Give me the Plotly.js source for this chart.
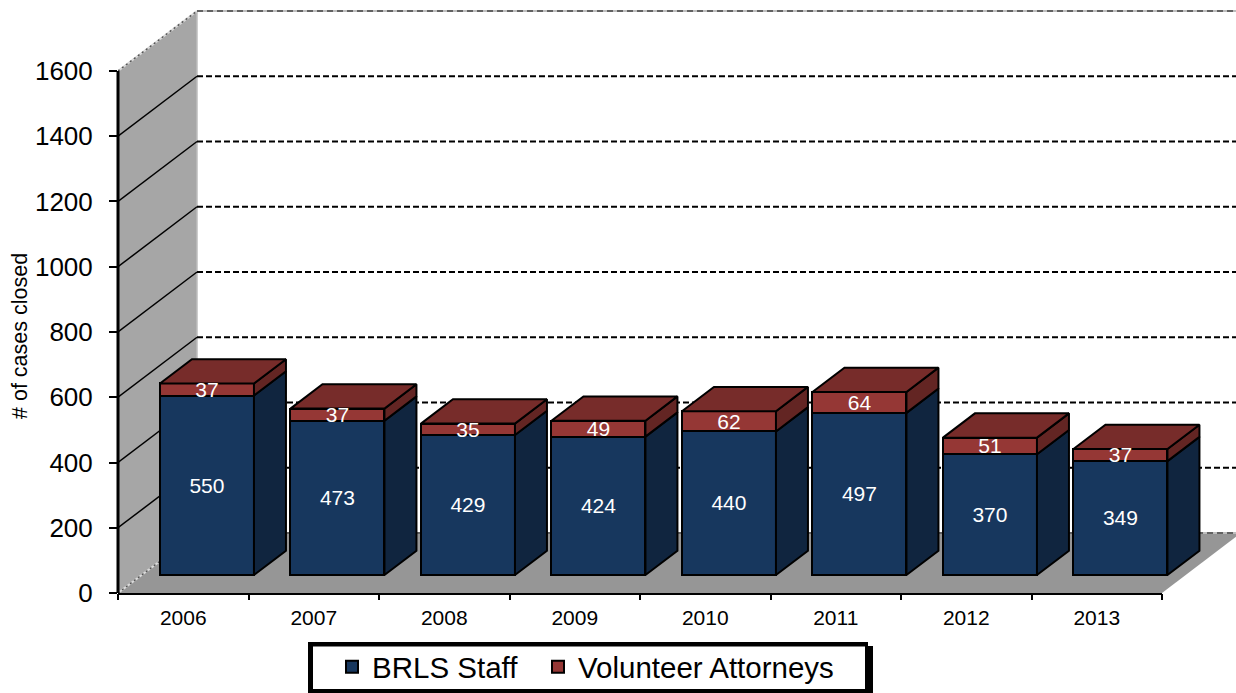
<!DOCTYPE html>
<html>
<head>
<meta charset="utf-8">
<script src="https://cdn.plot.ly/plotly-3.0.1.min.js"></script>
<style>html,body{margin:0;padding:0;background:#fff}#chart{width:1236px;height:693px}</style>
</head>
<body>
<div id="chart"></div>
<script>
// ---- data ----
var years = ['2006','2007','2008','2009','2010','2011','2012','2013'];
var staff = [550,473,429,424,440,497,370,349];
var volunteers = [37,37,35,49,62,64,51,37];
var yTicks = [0,200,400,600,800,1000,1200,1400,1600];

// ---- 3D projection, expressed in axis units ----
var W = 1236, H = 693, L = 118, T = 9, B0 = 593;
var catPx = 130.5, valPx = 584 / 1790;
var DX = 79 / catPx, DY = 60 / valPx;      // full depth of the chart box
var barStart = 0.30, barDepth = 0.405, barW = 94 / catPx;
var xMax = (W - L) / catPx, yMax = 1790, nCat = years.length;
var px = function (p) { return (p - L) / (W - L); };
var py = function (p) { return (B0 - p) / (B0 - T); };
var labelNudge = 2 / valPx;

var floorBase = barStart * DY;
var centers = years.map(function (_, i) { return i + 0.5 + barStart * DX; });
var tops = staff.map(function (v, i) { return v + volunteers[i]; });

function polys(build) {
  var xs = [], ys = [];
  years.forEach(function (_, i) {
    build(i).forEach(function (p) { xs.push(p[0]); ys.push(p[1]); });
    xs.push(null); ys.push(null);
  });
  return {x: xs, y: ys};
}
var dX = barDepth * DX, dY = barDepth * DY;
function sideFace(low, high) {
  return polys(function (i) {
    var r = centers[i] + barW / 2, a = floorBase + low[i], b = floorBase + high[i];
    return [[r, a], [r + dX, a + dY], [r + dX, b + dY], [r, b], [r, a]];
  });
}
var zeros = years.map(function () { return 0; });
var sideBlue = sideFace(zeros, staff);
var sideRed = sideFace(staff, tops);
var topRed = polys(function (i) {
  var l = centers[i] - barW / 2, r = centers[i] + barW / 2, t = floorBase + tops[i];
  return [[l, t], [r, t], [r + dX, t + dY], [l + dX, t + dY], [l, t]];
});
function face(p, color) {
  return {type: 'scatter', mode: 'lines', x: p.x, y: p.y, fill: 'toself', fillcolor: color,
    line: {color: '#000', width: 2}, showlegend: false, hoverinfo: 'skip'};
}
var labelFont = {color: '#fff', size: 21, family: 'Liberation Sans'};
var traces = [
  {type: 'bar', name: 'BRLS Staff', x: centers, y: staff, width: barW,
   base: years.map(function () { return floorBase; }),
   marker: {color: '#17375E', line: {color: '#000', width: 2}}, hoverinfo: 'y'},
  {type: 'bar', name: 'Volunteer Attorneys', legend: 'legend2', x: centers, y: volunteers, width: barW,
   base: staff.map(function (v) { return floorBase + v; }),
   marker: {color: '#953735', line: {color: '#000', width: 2}}, hoverinfo: 'y'},
  face(sideBlue, '#10253F'),
  face(sideRed, '#632523'),
  face(topRed, '#772C2A'),
  {type: 'scatter', mode: 'text', x: centers, y: staff.map(function (v) { return floorBase + v / 2 - labelNudge; }),
   text: staff.map(String), textfont: labelFont,
   textposition: 'middle center', showlegend: false, hoverinfo: 'skip'},
  {type: 'scatter', mode: 'text', x: centers,
   y: staff.map(function (v, i) { return floorBase + v + volunteers[i] / 2 - labelNudge; }),
   text: volunteers.map(String), textfont: labelFont,
   textposition: 'middle center', showlegend: false, hoverinfo: 'skip'}
];

// ---- walls, floor, gridlines ----
var shapes = [];
function poly(pts, fill, lineColor, lw) {
  var d = pts.map(function (p, i) { return (i ? 'L' : 'M') + p[0] + ',' + p[1]; }).join('') + 'Z';
  shapes.push({type: 'path', xref: 'x', yref: 'y', layer: 'below', path: d, fillcolor: fill,
    line: {color: lineColor || fill, width: lw || 0}});
}
function seg(x0, y0, x1, y1, color, width, dash, layer) {
  shapes.push({type: 'line', xref: 'x', yref: 'y', layer: layer || 'below',
    x0: x0, y0: y0, x1: x1, y1: y1, line: {color: color, width: width, dash: dash || 'solid'}});
}
poly([[0, 0], [DX, DY], [DX, 1600 + DY], [0, 1600]], '#A6A6A6');
poly([[0, 0], [nCat, 0], [nCat + DX, DY], [DX, DY]], '#969696');
seg(DX, DY, DX, 1600 + DY, '#BDBDBD', 1.5);
yTicks.forEach(function (v) {
  var edge = (v === 0 || v === 1600);
  if (edge) {
    seg(0, v, DX, v + DY, '#D9D9D9', 2);
    seg(0, v, DX, v + DY, '#555', 1.5, '2px,3px');
    seg(DX, v + DY, nCat + DX, v + DY, '#BDBDBD', 2);
    seg(DX, v + DY, nCat + DX, v + DY, '#444', 1.5, '6px,4px');
  } else {
    seg(0, v, DX, v + DY, '#000', 1.5);
    seg(DX, v + DY, nCat + DX, v + DY, '#000', 2, '6px,3px');
  }
});
// front axis lines
shapes.push({type: 'line', xref: 'paper', yref: 'y', layer: 'above', x0: 0, x1: 0, y0: 0, y1: 1600,
  line: {color: '#000', width: 3}});
shapes.push({type: 'line', xref: 'x', yref: 'paper', layer: 'above', x0: 0, x1: nCat, y0: py(594), y1: py(594),
  line: {color: '#000', width: 2}});
// legend frame: outer border, drop shadow, white inside
function box(x0, x1, y0, y1, fill) {
  shapes.push({type: 'rect', xref: 'paper', yref: 'paper', layer: 'above',
    x0: px(x0), x1: px(x1), y0: py(y1), y1: py(y0), fillcolor: fill, line: {width: 0}});
}
box(308, 868, 642, 693, '#000');
box(312, 873, 646, 693, '#000');
box(313, 865, 646.5, 689, '#fff');

function legendAt(x) {
  return {
    orientation: 'h', x: px(x), xanchor: 'left', y: py(641), yanchor: 'top',
    bgcolor: 'rgba(0,0,0,0)', borderwidth: 0,
    font: {size: 29.5, color: '#000'}, itemclick: false, itemdoubleclick: false,
    traceorder: 'normal', itemwidth: 30
  };
}
var layout = {
  width: W, height: H,
  margin: {l: L, r: 0, t: T, b: H - B0, autoexpand: false},
  paper_bgcolor: '#fff', plot_bgcolor: '#fff',
  font: {family: 'Liberation Sans', color: '#000'},
  barmode: 'overlay', bargap: 0,
  showlegend: true,
  xaxis: {
    range: [0, xMax], showgrid: false, zeroline: false, showline: false,
    tickmode: 'array', tickvals: years.map(function (_, i) { return i + 0.5; }), ticktext: years,
    ticks: '', ticklabelstandoff: 10, tickangle: 0, tickfont: {size: 21, color: '#000'},
    minor: {tickmode: 'array', tickvals: years.map(function (_, i) { return i; }).concat([nCat]),
            ticks: 'outside', ticklen: 6, tickwidth: 1.5, tickcolor: '#000', showgrid: false}
  },
  yaxis: {
    range: [0, yMax], showgrid: false, zeroline: false, showline: false,
    tickmode: 'array', tickvals: yTicks, ticks: 'outside', ticklen: 8, tickwidth: 1.5, tickcolor: '#000',
    ticklabelstandoff: 11, tickfont: {size: 26, color: '#000'}
  },
  legend: legendAt(332),
  legend2: legendAt(538),
  shapes: shapes,
  annotations: [{
    text: '# of cases closed', xref: 'paper', yref: 'paper', x: px(20), y: py(336),
    xanchor: 'center', yanchor: 'middle', textangle: -90, showarrow: false,
    font: {size: 21.5, color: '#000'}
  }]
};
Plotly.newPlot('chart', traces, layout, {displayModeBar: false, responsive: false});
</script>
</body>
</html>
